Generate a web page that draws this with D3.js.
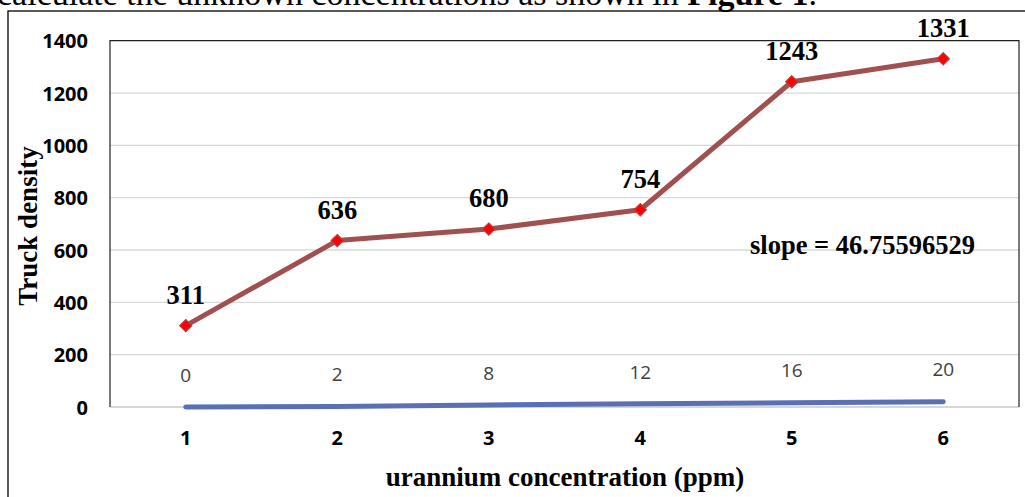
<!DOCTYPE html>
<html><head><meta charset="utf-8">
<script src="https://cdn.jsdelivr.net/npm/d3@7"></script>
<style>body{margin:0;background:#fff;} svg{display:block;}</style>
</head><body>
<script>
const categories = ["1","2","3","4","5","6"];
const trackDensity = [311, 636, 680, 754, 1243, 1331];
const concentration = [0, 2, 8, 12, 16, 20];
const yTicks = [0, 200, 400, 600, 800, 1000, 1200, 1400];
const slopeText = "slope = 46.75596529";

const W = 1025, H = 497;
const svg = d3.select("body").append("svg").attr("width", W).attr("height", H);

// heading text above the figure (cut off by the page top)
const head = svg.append("text").attr("x", -3).attr("y", 5)
  .attr("font-family", "Liberation Serif, Times New Roman, serif").attr("font-size", 34).attr("fill", "#000");
head.append("tspan").text("calculate the unknown concentrations as shown in ");
head.append("tspan").attr("font-weight", "bold").text("Figure 1");
head.append("tspan").text(".");

// outer chart frame
svg.append("rect").attr("x", 8).attr("y", 11).attr("width", W + 20).attr("height", H + 20)
  .attr("fill", "none").attr("stroke", "#000").attr("stroke-width", 1.3);

const plot = {left: 110, right: 1019, top: 40.7, bottom: 407};
const x = d3.scaleBand().domain(categories).range([plot.left, plot.right]);
const y = d3.scaleLinear().domain([0, 1400]).range([plot.bottom, plot.top]);

// gridlines
svg.append("g").selectAll("line").data(yTicks.filter(d => d > 0 && d < 1400)).join("line")
  .attr("x1", plot.left).attr("x2", plot.right)
  .attr("y1", d => y(d)).attr("y2", d => y(d))
  .attr("stroke", "#d9d9d9").attr("stroke-width", 1.3);
svg.append("line").attr("x1", plot.left).attr("x2", plot.right)
  .attr("y1", y(0)).attr("y2", y(0)).attr("stroke", "#c8c8c8").attr("stroke-width", 1.5);

// plot area frame (top, left, right)
svg.append("path")
  .attr("d", `M${plot.left},${plot.bottom}V${plot.top}H${plot.right}V${plot.bottom}`)
  .attr("fill", "none").attr("stroke", "#222").attr("stroke-width", 1.2);

// y axis
const yAxis = d3.axisLeft(y).tickValues(yTicks).tickFormat(d3.format("d")).tickSize(0).tickPadding(0);
const gy = svg.append("g").attr("transform", `translate(88,0)`).call(yAxis);
gy.select(".domain").remove();
gy.selectAll("text").attr("font-family", "Open Sans, Lato, sans-serif").attr("font-weight", "bold")
  .attr("font-size", 20).attr("fill", "#000").attr("dy", "0.35em");

// x axis
const xAxis = d3.axisBottom(x).tickSize(0).tickPadding(0);
const gx = svg.append("g").attr("transform", `translate(0,438)`).call(xAxis);
gx.select(".domain").remove();
gx.selectAll("text").attr("font-family", "Open Sans, Lato, sans-serif").attr("font-weight", "bold")
  .attr("font-size", 20).attr("fill", "#000").attr("dy", "0.35em");

const cx = d => x(d) + x.bandwidth() / 2;

// concentration series (blue)
const blueLine = d3.line().x((d, i) => cx(categories[i])).y(d => y(d));
svg.append("path").datum(concentration).attr("d", blueLine)
  .attr("fill", "none").attr("stroke", "#5b70b4").attr("stroke-width", 5).attr("stroke-linecap", "round");
svg.append("g").selectAll("text").data(concentration).join("text")
  .attr("x", (d, i) => cx(categories[i])).attr("y", d => y(d) - 32)
  .attr("text-anchor", "middle").attr("dy", "0.35em")
  .attr("font-family", "Open Sans, Lato, sans-serif").attr("font-size", 19).attr("fill", "#404040")
  .text(d => d);

// track density series (red)
const redLine = d3.line().x((d, i) => cx(categories[i])).y(d => y(d));
svg.append("path").datum(trackDensity).attr("d", redLine)
  .attr("fill", "none").attr("stroke", "#a0504f").attr("stroke-width", 5).attr("stroke-linejoin", "round");
svg.append("g").selectAll("path").data(trackDensity).join("path")
  .attr("d", d3.symbol(d3.symbolDiamond2, 95))
  .attr("transform", (d, i) => `translate(${cx(categories[i])},${y(d)})`)
  .attr("fill", "#ff0000").attr("stroke", "#b4403f").attr("stroke-width", 1.2);
svg.append("g").selectAll("text").data(trackDensity).join("text")
  .attr("x", (d, i) => cx(categories[i])).attr("y", d => y(d) - 31)
  .attr("text-anchor", "middle").attr("dy", "0.35em")
  .attr("font-family", "Liberation Serif, Times New Roman, serif").attr("font-weight", "bold")
  .attr("font-size", 26.5).attr("fill", "#000")
  .text(d => d);

// slope annotation
svg.append("text").attr("x", 750).attr("y", 245).attr("dy", "0.35em")
  .attr("font-family", "Liberation Serif, Times New Roman, serif").attr("font-weight", "bold")
  .attr("font-size", 26.5).attr("fill", "#000").text(slopeText);

// axis titles
svg.append("text").attr("transform", "translate(28,226) rotate(-90)")
  .attr("text-anchor", "middle").attr("dy", "0.35em")
  .attr("font-family", "Liberation Serif, Times New Roman, serif").attr("font-weight", "bold")
  .attr("font-size", 27).attr("fill", "#000").text("Truck density");
svg.append("text").attr("x", 565).attr("y", 477).attr("text-anchor", "middle").attr("dy", "0.35em")
  .attr("font-family", "Liberation Serif, Times New Roman, serif").attr("font-weight", "bold")
  .attr("font-size", 27).attr("fill", "#000").text("urannium concentration (ppm)");
</script>
</body></html>
